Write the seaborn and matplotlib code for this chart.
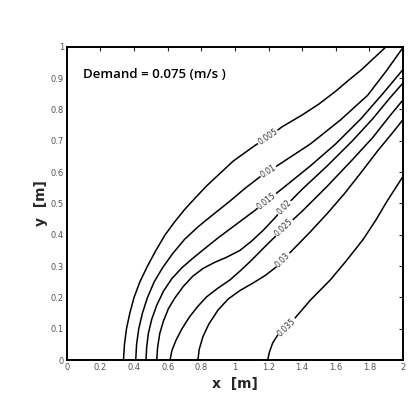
import numpy as np
import pandas as pd
import matplotlib.pyplot as plt
import seaborn as sns

# contour levels and traced iso-lines (x [m], y [m])
levels = ["0.005", "0.01", "0.015", "0.02", "0.025", "0.03", "0.035"]

x_005 = [0.337, 0.343, 0.355, 0.375, 0.40, 0.435, 0.48, 0.53, 0.585, 0.64, 0.70, 0.76, 0.83, 0.90, 0.99, 1.12, 1.20, 1.28, 1.40, 1.50, 1.60, 1.67, 1.75, 1.83, 1.90]
y_005 = [0.0, 0.05, 0.10, 0.15, 0.20, 0.25, 0.30, 0.35, 0.40, 0.44, 0.48, 0.515, 0.555, 0.59, 0.635, 0.685, 0.712, 0.744, 0.782, 0.817, 0.858, 0.89, 0.925, 0.965, 1.0]

x_01 = [0.41, 0.415, 0.428, 0.45, 0.48, 0.52, 0.57, 0.63, 0.70, 0.78, 0.86, 0.97, 1.06, 1.15, 1.20, 1.26, 1.45, 1.63, 1.79, 1.90, 2.0]
y_01 = [0.0, 0.05, 0.10, 0.15, 0.20, 0.25, 0.295, 0.34, 0.385, 0.425, 0.46, 0.507, 0.548, 0.585, 0.601, 0.623, 0.69, 0.767, 0.845, 0.922, 0.997]

x_015 = [0.471, 0.475, 0.485, 0.505, 0.535, 0.575, 0.625, 0.685, 0.75, 0.83, 0.90, 0.97, 1.05, 1.12, 1.19, 1.30, 1.45, 1.60, 1.75, 1.88, 2.0]
y_015 = [0.0, 0.04, 0.085, 0.13, 0.175, 0.22, 0.26, 0.295, 0.325, 0.36, 0.39, 0.418, 0.45, 0.478, 0.508, 0.555, 0.62, 0.69, 0.77, 0.85, 0.927]

x_02 = [0.535, 0.54, 0.553, 0.575, 0.605, 0.645, 0.693, 0.75, 0.812, 0.88, 0.95, 1.03, 1.10, 1.17, 1.235, 1.293, 1.40, 1.55, 1.70, 1.82, 1.92, 2.0]
y_02 = [0.0, 0.04, 0.085, 0.125, 0.165, 0.20, 0.235, 0.268, 0.293, 0.312, 0.328, 0.35, 0.38, 0.415, 0.452, 0.487, 0.545, 0.62, 0.70, 0.77, 0.835, 0.884]

x_025 = [0.614, 0.625, 0.65, 0.685, 0.73, 0.78, 0.832, 0.90, 0.971, 1.03, 1.09, 1.19, 1.293, 1.40, 1.55, 1.70, 1.82, 1.92, 2.0]
y_025 = [0.0, 0.03, 0.064, 0.10, 0.138, 0.172, 0.202, 0.23, 0.256, 0.284, 0.314, 0.368, 0.422, 0.475, 0.555, 0.64, 0.71, 0.778, 0.83]

x_03 = [0.78, 0.788, 0.81, 0.845, 0.90, 0.96, 1.03, 1.108, 1.18, 1.248, 1.286, 1.35, 1.45, 1.55, 1.65, 1.75, 1.85, 1.93, 2.0]
y_03 = [0.0, 0.035, 0.075, 0.115, 0.16, 0.195, 0.222, 0.246, 0.27, 0.298, 0.32, 0.355, 0.41, 0.468, 0.53, 0.598, 0.668, 0.72, 0.767]

x_035 = [1.195, 1.205, 1.225, 1.255, 1.29, 1.31, 1.367, 1.45, 1.566, 1.66, 1.763, 1.84, 1.903, 2.0]
y_035 = [0.0, 0.025, 0.055, 0.08, 0.097, 0.105, 0.14, 0.192, 0.255, 0.315, 0.385, 0.448, 0.505, 0.586]

# where the inline labels sit (x along each line)
label_x = [1.197, 1.20, 1.19, 1.293, 1.293, 1.286, 1.31]

xs = [x_005, x_01, x_015, x_02, x_025, x_03, x_035]
ys = [y_005, y_01, y_015, y_02, y_025, y_03, y_035]

df = pd.concat([pd.DataFrame({"x": x, "y": y, "level": lv})
                for x, y, lv in zip(xs, ys, levels)], ignore_index=True)

sns.set_style("white")
plt.rcParams['font.family'] = ['DejaVu Sans']

fig = plt.figure(figsize=(4.15, 4.13), dpi=100)
ax = fig.add_axes([0.161, 0.128, 0.810, 0.759])

sns.lineplot(data=df, x="x", y="y", units="level", estimator=None, sort=False,
             color="black", linewidth=1.1, ax=ax, legend=False)

ax.set_xlim(0, 2)
ax.set_ylim(0, 1)
ax.set_xticks(np.arange(0, 2.01, 0.2))
ax.set_xticklabels(["0", "0.2", "0.4", "0.6", "0.8", "1", "1.2", "1.4", "1.6", "1.8", "2"])
ax.set_yticks(np.arange(0, 1.01, 0.1))
ax.set_yticklabels(["0", "0.1", "0.2", "0.3", "0.4", "0.5", "0.6", "0.7", "0.8", "0.9", "1"])
ax.tick_params(direction="in", length=3, width=0.8, top=True, right=True,
               labelsize=6, labelcolor="#555555", pad=2)
for s in ax.spines.values():
    s.set_color("black")
    s.set_linewidth(1.4)

ax.set_xlabel("x  [m]", fontsize=10, fontweight="bold", labelpad=4)
ax.set_ylabel("y  [m]", fontsize=10, fontweight="bold", labelpad=2)

ax.text(0.097, 0.91, "Demand = 0.075 (m/s )", fontsize=9.5, va="center", ha="left",
        color="black", fontweight="semibold", family=["Open Sans", "DejaVu Sans"])

# inline contour labels
fig.canvas.draw()
for x, y, lv, lx in zip(xs, ys, levels, label_x):
    ly = np.interp(lx, x, y)
    p0 = ax.transData.transform((lx - 0.04, np.interp(lx - 0.04, x, y)))
    p1 = ax.transData.transform((lx + 0.04, np.interp(lx + 0.04, x, y)))
    ang = np.degrees(np.arctan2(p1[1] - p0[1], p1[0] - p0[0]))
    ax.text(lx, ly, lv, fontsize=5.5, rotation=ang, rotation_mode="anchor",
            ha="center", va="center", color="#333333", zorder=5,
            bbox=dict(facecolor="white", edgecolor="none", pad=0.6))

fig.savefig("out.png", dpi=100)
